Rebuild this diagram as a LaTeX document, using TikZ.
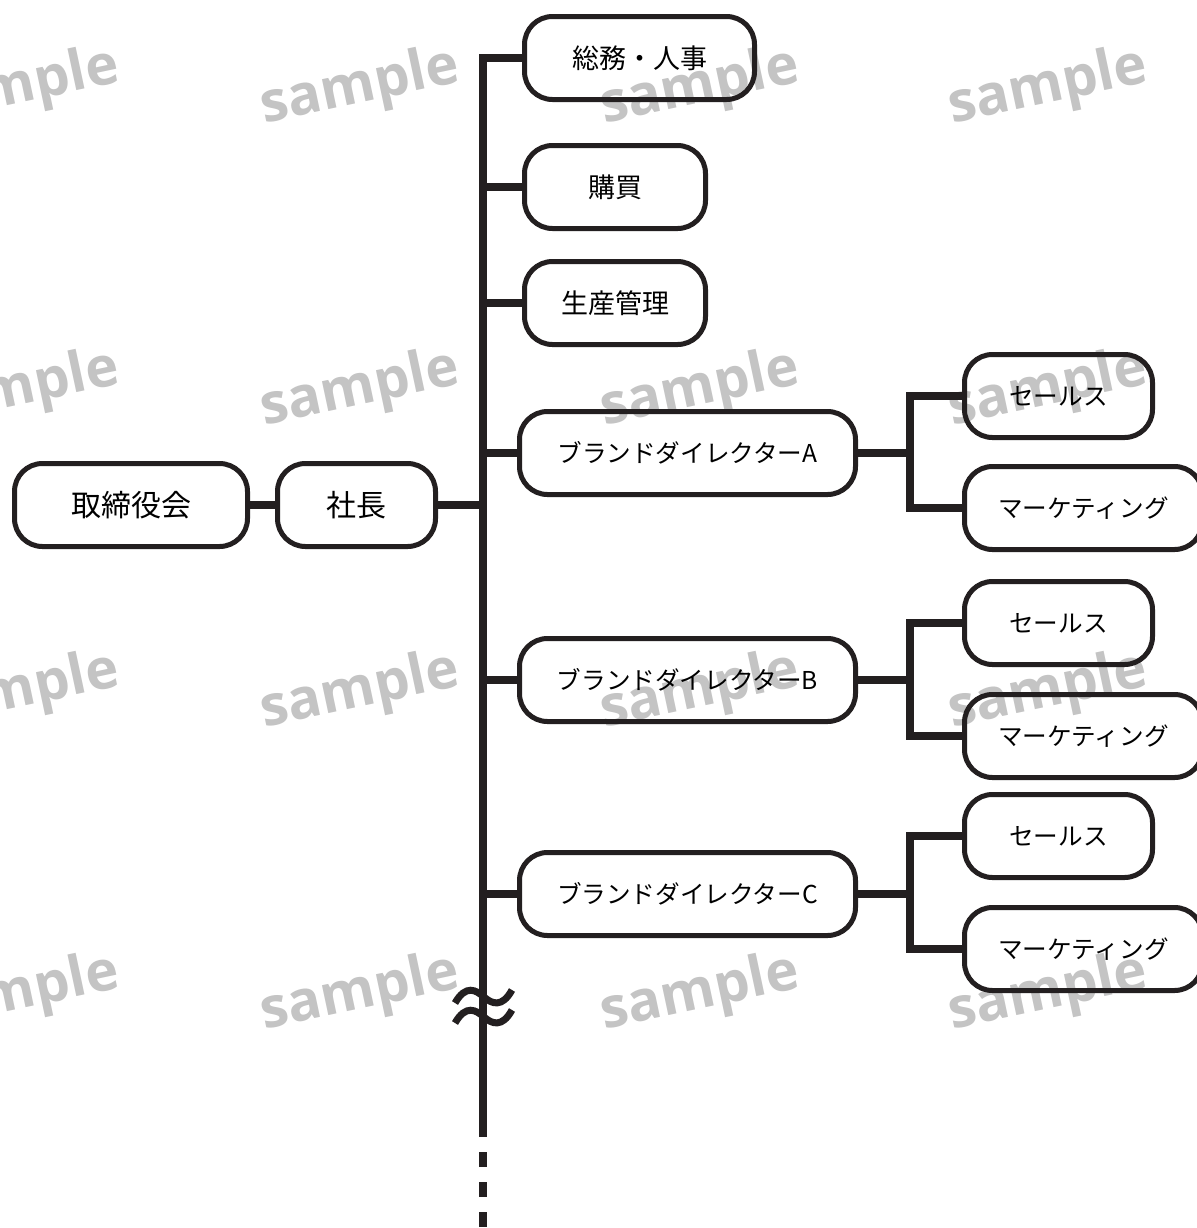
\documentclass[tikz,border=0pt]{standalone}
\usepackage{fontspec}
\newfontfamily\jpfont{Noto Sans CJK JP}
\newfontfamily\wmfont{Open Sans}
\definecolor{ink}{HTML}{231F20}
\begin{document}
\begin{tikzpicture}[x=0.5pt,y=-0.5pt]
\tikzset{
  unit/.style={draw=ink, line width=2.5pt, rounded corners=14pt, inner sep=0pt,
    minimum height=41.5pt, text=black, font=\jpfont\fontsize{13.5pt}{16pt}\selectfont},
  bigtxt/.style={font=\jpfont\fontsize{15pt}{18pt}\selectfont},
  smalltxt/.style={font=\jpfont\fontsize{12.3pt}{15pt}\selectfont},
  link/.style={draw=ink, line width=3.8pt},
  wm/.style={text=black!23, font=\wmfont\bfseries\fontsize{28pt}{30pt}\selectfont, rotate=12}
}
\useasboundingbox (0,0) rectangle (1197,1228);

% background watermark grid
\foreach \cx in {20,360,700,1048}
  \foreach \cy in {88,390,692,994}
    \node[wm] (wm-\cx-\cy) at (\cx,\cy) {sample};

% top of the chart
\node[unit, bigtxt, minimum width=116.5pt] (board) at (131,505) {取締役会};
\node[unit, bigtxt, minimum width=79pt] (pres) at (356.5,505) {社長};

% departments
\node[unit, minimum width=115pt] (soumu) at (639.5,58) {総務・人事};
\node[unit, minimum width=90.5pt] (kobai) at (615,187) {購買};
\node[unit, minimum width=90.5pt] (seisan) at (615,303) {生産管理};

% brand directors and their teams
\foreach \b/\y/\ys/\ym in {A/453/396/508, B/680/623/736, C/894/836/949}{
  \node[unit, smalltxt, minimum width=168pt] (bd\b) at (687.5,\y) {ブランドダイレクター\b};
  \node[unit, smalltxt, minimum width=94pt] (sales\b) at (1058.5,\ys) {セールス};
  \node[unit, smalltxt, minimum width=119pt] (mkt\b) at (1083.5,\ym) {マーケティング};
  \coordinate (j\b) at (910,\y);
  \draw[link] (bd\b.east) -- (j\b);
  \draw[link] (sales\b.west) -| (j\b) |- (mkt\b.west);
}

% main trunk
\coordinate (tTop) at (483,58);
\coordinate (tEnd) at (483,1137);
\coordinate (tDash) at (483,1152);
\coordinate (tFoot) at (483,1240);
\draw[link] (soumu.west) -- (tTop) -- (tEnd);
\draw[link, dash pattern=on 7.5pt off 7.5pt] (tDash) -- (tFoot);

\draw[link] (board.east) -- (pres.west);
\draw[link] (pres.east) -- (pres.east -| tTop);
\foreach \n in {kobai,seisan,bdA,bdB,bdC}
  \draw[link] (\n.west) -- (\n.west -| tTop);

% break mark on the trunk
\foreach \dy in {0,20}
  \draw[draw=ink, line width=3.5pt]
    (455,1003+\dy) .. controls (466,984+\dy) and (476,990+\dy) .. (484,997+\dy)
    .. controls (492,1004+\dy) and (502,1008+\dy) .. (512,990+\dy);
\end{tikzpicture}
\end{document}
